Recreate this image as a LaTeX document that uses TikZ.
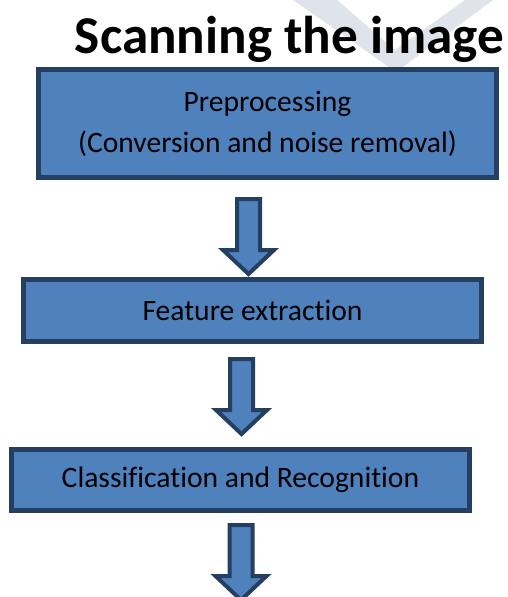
\documentclass[tikz,border=0pt]{standalone}
\usepackage{fontspec}
\setmainfont{Carlito}[Ligatures=NoCommon]
\usetikzlibrary{positioning,calc}
\definecolor{boxblue}{HTML}{4F81BD}
\definecolor{boxedge}{HTML}{243F60}
\definecolor{markgray}{HTML}{DEE4EA}
\begin{document}
\begin{tikzpicture}
    [x=1pt, y=-1pt,
    stage/.style = {rectangle, draw=boxedge, fill=boxblue,
                    line width=5pt, inner sep=0pt,
                    minimum width=458pt,
                    font=\fontsize{29.6}{41}\selectfont, align=center},
    blockarrow/.pic = {\draw[draw=boxedge, fill=boxblue, line width=4pt, miter limit=4]
        (-11.5,0) -- (11.5,0) -- (11.5,51) -- (25.5,51) -- (0,75)
        -- (-25.5,51) -- (-11.5,51) -- cycle;}]
    \useasboundingbox (0,0) rectangle (508,597);
    % faint mark behind the title
    \fill[markgray] (293,0) -- (337,0) -- (395,50) -- (465,0) -- (493,0)
        -- (396,72) -- cycle;
    % Title
    \node[font=\fontsize{53.2}{54}\selectfont\bfseries, anchor=base]
        (title) at (289.5,53) {Scanning the image};
    % Stages
    \node[stage, minimum height=108pt] (pre) at (267.5,123.5)
        {Preprocessing\\(Conversion and noise removal)};
    \node[stage, minimum height=62pt, below=97pt of pre, xshift=-15pt]
        (feat) {Feature extraction};
    \node[stage, minimum height=61pt, below=103pt of feat, xshift=-12pt]
        (cls) {Classification and Recognition};
    % Arrows between stages
    \pic at ($(pre.south)+(-19,19)$) {blockarrow};
    \pic at ($(feat.south)+(-11,15)$) {blockarrow};
    \pic at ($(cls.south)+(0.5,12)$) {blockarrow};
\end{tikzpicture}
\end{document}
